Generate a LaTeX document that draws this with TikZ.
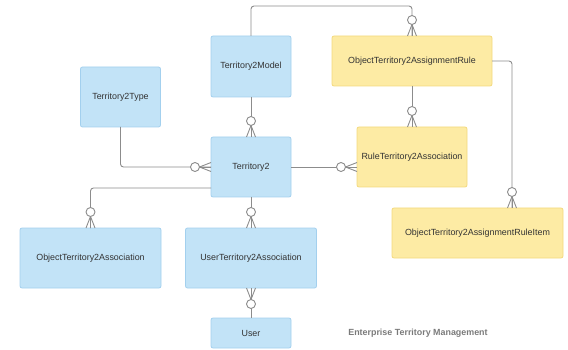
\documentclass[tikz,border=0pt]{standalone}
\usepackage{fontspec}
\setmainfont{Liberation Sans}
\usetikzlibrary{calc}
\definecolor{bfill}{HTML}{C2E3F7}
\definecolor{bdraw}{HTML}{A3D0EE}
\definecolor{yfill}{HTML}{FDEBA4}
\definecolor{ydraw}{HTML}{F3D97E}
\definecolor{lcol}{HTML}{8C8C8C}
\definecolor{tcol}{HTML}{333333}
\definecolor{ttl}{HTML}{7A7A7A}
\tikzset{
  ent/.style={rounded corners=2pt, line width=0.8pt, inner sep=0pt, outer sep=0pt,
    font=\fontsize{8.9}{10}\selectfont, text=tcol},
  bluebox/.style={ent, fill=bfill, draw=bdraw},
  yelbox/.style={ent, fill=yfill, draw=ydraw},
  rel/.style={draw=lcol, line width=0.9pt},
  crow/.pic={
    \draw[rel] (0pt,0pt) -- (11.5pt,0pt);
    \draw[rel] (0pt,4.5pt) -- (11.5pt,0pt) -- (0pt,-4.5pt);
    \draw[rel, fill=white] (16pt,0pt) circle (4.5pt);
  }
}
\begin{document}
\begin{tikzpicture}[x=1pt,y=-1pt]
\useasboundingbox (0,0) rectangle (568,350);
% nodes
\node[bluebox, minimum width=80pt, minimum height=61pt] (t2m) at (251,66.5) {Territory2Model};
\node[yelbox, minimum width=160pt, minimum height=50pt] (rule) at (412,61) {ObjectTerritory2AssignmentRule};
\node[bluebox, minimum width=80pt, minimum height=60pt] (t2type) at (120.5,97) {Territory2Type};
\node[bluebox, minimum width=80pt, minimum height=60pt] (t2) at (251,167) {Territory2};
\node[yelbox, minimum width=110pt, minimum height=60pt] (rta) at (412,157) {RuleTerritory2Association};
\node[yelbox, minimum width=171pt, minimum height=50pt] (item) at (477.5,233) {ObjectTerritory2AssignmentRuleItem};
\node[bluebox, minimum width=141pt, minimum height=60pt] (ota) at (90.5,258) {ObjectTerritory2Association};
\node[bluebox, minimum width=131pt, minimum height=60pt] (uta) at (251,258) {UserTerritory2Association};
\node[bluebox, minimum width=80pt, minimum height=30pt] (user) at (251,333) {User};
\node[font=\bfseries\fontsize{8.9}{10}\selectfont, text=ttl] (title) at (418,333) {Enterprise Territory Management};
% connectors
\coordinate (topl) at (251,6);
\coordinate (topr) at (412,6);
\draw[rel, rounded corners=3pt] (t2m.north) -- (topl) -- (topr) -- (rule.north);
\draw[rel] (t2m.south) -- (t2.north);
\draw[rel, rounded corners=3pt] (t2type.south) |- (t2.west);
\draw[rel] (t2.east) -- (rta.west |- t2.east);
\draw[rel] (rule.south) -- (rta.north);
\coordinate (rr) at (512,61);
\draw[rel, rounded corners=3pt] (rule.east) -- (rr) -- (item.north -| rr);
\coordinate (t2l) at ($(t2.south west)+(0,-9)$);
\draw[rel, rounded corners=3pt] (t2l) -| (ota.north);
\draw[rel] (t2.south) -- (uta.north);
\draw[rel] (uta.south) -- (user.north);
% crow's feet
\pic[rotate=90] at (t2.north) {crow};
\pic[rotate=90] at (rule.north) {crow};
\pic[rotate=180] at (t2.west) {crow};
\pic[rotate=180] at (rta.west |- t2.east) {crow};
\pic[rotate=90] at (rta.north) {crow};
\pic[rotate=90] at (item.north -| rr) {crow};
\pic[rotate=90] at (ota.north) {crow};
\pic[rotate=90] at (uta.north) {crow};
\pic[rotate=-90] at (uta.south) {crow};
\end{tikzpicture}
\end{document}
